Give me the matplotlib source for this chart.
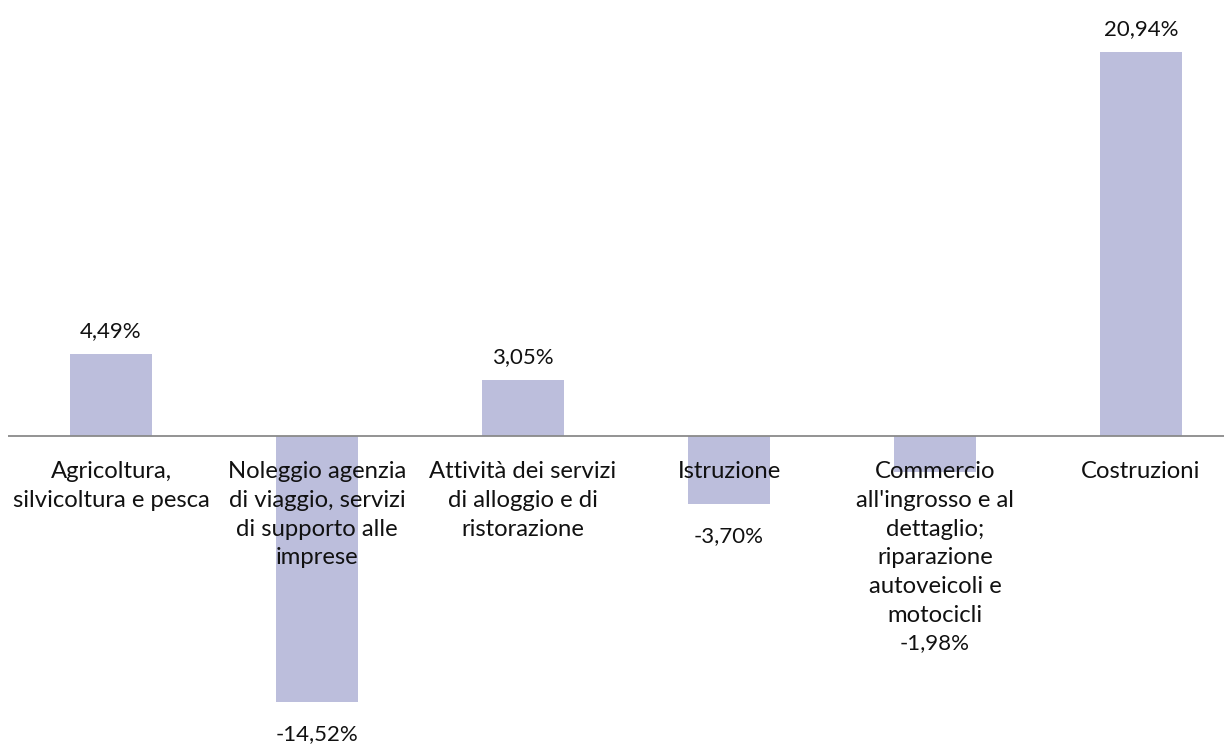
import matplotlib.pyplot as plt

# settori e variazione percentuale
categories = [
    "Agricoltura,\nsilvicoltura e pesca",
    "Noleggio agenzia\ndi viaggio, servizi\ndi supporto alle\nimprese",
    "Attività dei servizi\ndi alloggio e di\nristorazione",
    "Istruzione",
    "Commercio\nall'ingrosso e al\ndettaglio;\nriparazione\nautoveicoli e\nmotocicli",
    "Costruzioni",
]
values = [4.49, -14.52, 3.05, -3.70, -1.98, 20.94]

plt.rcParams['font.family'] = ['Lato', 'DejaVu Sans']

W, H = 1224, 745
fig = plt.figure(figsize=(W / 100, H / 100), dpi=100)
ax = fig.add_axes([8 / W, 0, 1236 / W, 1])

px_per_unit = 18.34
ax.set_ylim(-(H - 436) / px_per_unit, 436 / px_per_unit)
ax.set_xlim(-0.5, len(categories) - 0.5)

x = range(len(categories))
ax.bar(x, values, width=0.4, color='#bcbedc', zorder=2)
ax.axhline(0, color='#8a8a8a', lw=1.3, zorder=3)

fs = 17.2
for i, (cat, v) in enumerate(zip(categories, values)):
    ax.annotate(cat, xy=(i, 0), xytext=(0, -18), textcoords='offset points',
                ha='center', va='top', fontsize=fs, color='#111111',
                linespacing=1.46, zorder=4)
    label = f"{v:.2f}%".replace('.', ',')
    if v >= 0:
        ax.annotate(label, xy=(i, v), xytext=(0, 9), textcoords='offset points',
                    ha='center', va='bottom', fontsize=16, color='#111111')
    elif i == 4:
        # etichetta spostata sotto il testo della categoria
        ax.annotate(label, xy=(i, 0), xytext=(0, -149), textcoords='offset points',
                    ha='center', va='center', fontsize=16, color='#111111')
    else:
        ax.annotate(label, xy=(i, v), xytext=(0, -16), textcoords='offset points',
                    ha='center', va='top', fontsize=16, color='#111111')

ax.axis('off')
fig.savefig('out.png', dpi=100)
